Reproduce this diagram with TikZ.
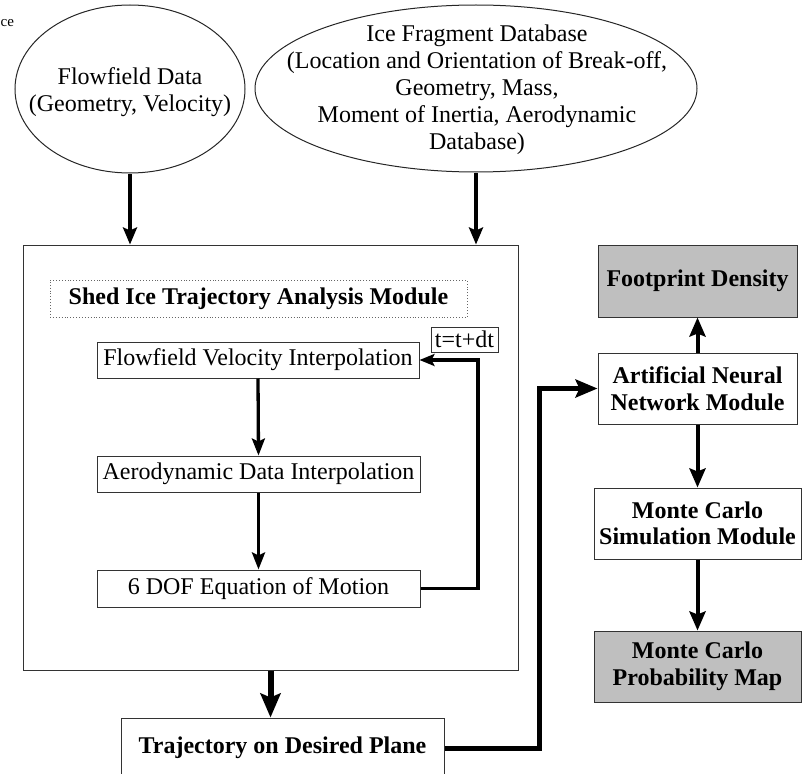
\documentclass[tikz,border=0pt]{standalone}
\usepackage{fontspec}
\setmainfont{Liberation Serif}
\usetikzlibrary{shapes.geometric,arrows.meta}
\begin{document}
\begin{tikzpicture}[x=1pt,y=-1pt,
  font=\fontsize{24}{27}\selectfont,
  box/.style={draw=black!80, line width=1pt, fill=white, inner sep=0pt, align=center},
  boldbox/.style={box, font=\fontsize{24}{26.5}\selectfont\bfseries},
  graybox/.style={boldbox, fill=black!25},
  ell/.style={draw=black!85, line width=1pt, ellipse, inner sep=0pt},
  arr/.style={line width=3.3pt, -{Stealth[length=17pt,width=13pt,inset=3pt]}},
  inarr/.style={line width=4pt, -{Stealth[length=17pt,width=14pt,inset=3pt]}},
  fbarr/.style={line width=3.5pt, -{Stealth[length=15pt,width=12pt,inset=3pt]}},
  bigarr/.style={line width=6pt, -{Stealth[length=24pt,width=20pt,inset=4pt]}},
  thickarr/.style={line width=5pt, -{Stealth[length=22pt,width=18pt,inset=4pt]}},
  colarr/.style={line width=4pt, -{Stealth[length=19pt,width=16pt,inset=3pt]}}
]
\useasboundingbox (0,0) rectangle (810,773);
\clip (0,0) rectangle (810,773);

% caption fragment at the top-left corner
\node[anchor=base west, font=\fontsize{15}{17}\selectfont, inner sep=0pt] (src) at (0.5,27) {ce};

% input ellipses
\node[ell, minimum width=230pt, minimum height=168pt] (e1) at (130,89) {};
\node[align=center, inner sep=0pt] (e1t) at (130,92) {Flowfield Data\\(Geometry, Velocity)};
\node[ell, minimum width=442pt, minimum height=167pt] (e2) at (476,88.5) {};
\node[align=center, inner sep=0pt] (e2t) at (477,90) {Ice Fragment Database\\(Location and Orientation of Break-off,\\Geometry, Mass,\\Moment of Inertia, Aerodynamic\\Database)};

% big module box
\node[box, minimum width=495pt, minimum height=425pt] (big) at (270.5,457.5) {};
\node[draw=black!60, dotted, line width=0.9pt, inner sep=0pt, minimum width=417pt, minimum height=37pt,
      font=\fontsize{24}{27}\selectfont\bfseries] (title) at (258.5,298.5) {Shed Ice Trajectory Analysis Module};

\node[box, minimum width=322pt, minimum height=36pt] (fv) at (258,360) {Flowfield Velocity Interpolation};
\node[box, minimum width=323pt, minimum height=36pt] (ad) at (258.5,474) {Aerodynamic Data Interpolation};
\node[box, minimum width=323pt, minimum height=37pt] (dof) at (258.5,588.5) {6 DOF Equation of Motion};
\node[box, minimum width=67pt, minimum height=25pt] (dt) at (464.5,339.5) {t=t+dt};

% trajectory output
\node[boldbox, minimum width=323pt, minimum height=60pt] (traj) at (282.5,748) {Trajectory on Desired Plane};

% right column
\node[graybox, minimum width=199pt, minimum height=72pt] (fd) at (697.5,281) {Footprint Density};
\node[boldbox, minimum width=199pt, minimum height=71pt] (ann) at (697.5,388.5) {Artificial Neural\\Network Module};
\node[boldbox, minimum width=207pt, minimum height=71pt] (mcs) at (697.5,523.5) {Monte Carlo\\Simulation Module};
\node[graybox, minimum width=207pt, minimum height=71pt] (mcp) at (697.5,666.5) {Monte Carlo\\Probability Map};

% connectors
\draw[inarr] (e1.south) -- (e1.south |- big.north);
\draw[inarr] (e2.south) -- (e2.south |- big.north);
\draw[arr] (fv.south) -- (ad.north);
\draw[arr] (ad.south) -- (dof.north);
\coordinate (fbc) at (478,588.5);
\draw[fbarr] (dof.east) -- (fbc) |- (fv.east);
\draw[bigarr] (big.south) -- (big.south |- traj.north);
\coordinate (j1) at (539,748);
\draw[thickarr] (traj.east) -- (j1) |- (ann.west);
\draw[colarr] (ann.north) -- (fd.south);
\draw[colarr] (ann.south) -- (mcs.north);
\draw[colarr] (mcs.south) -- (mcp.north);
\end{tikzpicture}
\end{document}
